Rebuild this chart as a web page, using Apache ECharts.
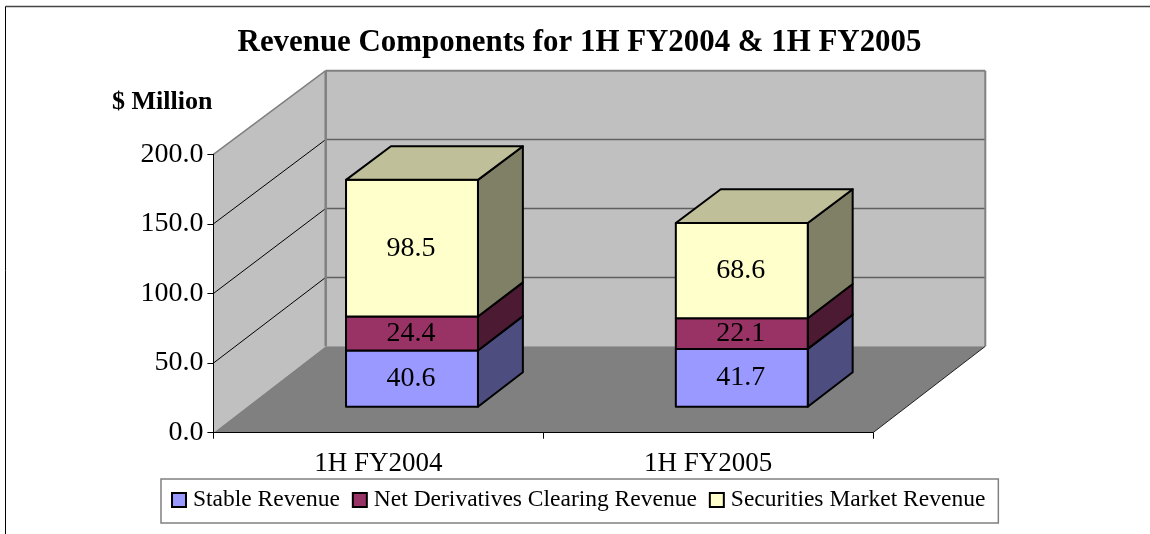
<!DOCTYPE html>
<html>
<head>
<meta charset="utf-8">
<title>Revenue Components</title>
<script src="https://cdn.jsdelivr.net/npm/echarts@6/dist/echarts.min.js"></script>
<style>
  html, body { margin: 0; padding: 0; background: #fff; }
  #chart { width: 1150px; height: 534px; }
</style>
</head>
<body>
<div id="chart"></div>
<script>
var categories = ['1H FY2004', '1H FY2005'];
var stableRevenue = [40.6, 41.7];
var derivativesRevenue = [24.4, 22.1];
var securitiesRevenue = [98.5, 68.6];
var wallTicks = [50, 100, 150];
var yMax = 200;

// fake 3D: how far the floor runs back, and where the bars sit on it
var DEPTH_X = 112.3;
var BAR_FRONT = 0.3;
var BAR_BACK = 0.7;
var BAR_WIDTH = 0.4;
var FONT = '"Liberation Serif", "Times New Roman", serif';

// value axis point pushed back by depth d (0 = front, 1 = back wall)
function project(api, catIndex, bandOffset, value, d) {
  var p = api.coord([catIndex, value]);
  var band = api.size([1, 0])[0];
  return [
    p[0] + bandOffset * band + d * DEPTH_X,
    p[1] + d * (-86.4 + value * 0.014)
  ];
}

function poly(points, fill) {
  return { type: 'polygon', shape: { points: points }, style: { fill: fill, stroke: null } };
}

function line(a, b, color, width) {
  return {
    type: 'line',
    shape: { x1: a[0], y1: a[1], x2: b[0], y2: b[1] },
    style: { stroke: color, lineWidth: width, fill: null }
  };
}

function renderWalls(params, api) {
  var last = categories.length - 1;
  var fl = project(api, 0, -0.5, 0, 0);
  var fr = project(api, last, 0.5, 0, 0);
  var bl = project(api, 0, -0.5, 0, 1);
  var br = project(api, last, 0.5, 0, 1);
  var tf = project(api, 0, -0.5, yMax, 0);
  var tl = project(api, 0, -0.5, yMax, 1);
  var tr = project(api, last, 0.5, yMax, 1);
  var children = [
    poly([fl, tf, tl, bl], '#C0C0C0'),
    poly([bl, tl, tr, br], '#C0C0C0'),
    poly([fl, bl, br, fr], '#808080')
  ];
  wallTicks.forEach(function (v) {
    var a = project(api, 0, -0.5, v, 0);
    var b = project(api, 0, -0.5, v, 1);
    var c = project(api, last, 0.5, v, 1);
    children.push(line(b, c, '#606060', 1.5));
    children.push(line(a, b, '#000', 1));
  });
  children.push(line(tf, tl, '#808080', 1.5));
  children.push(line(tl, tr, '#808080', 2));
  children.push(line(tr, br, '#808080', 2));
  children.push(line(bl, tl, '#808080', 2.5));
  children.push(line(fr, br, '#222', 1));
  return { type: 'group', children: children };
}

function makeRenderBar(front, side, top, isTop) {
  return function (params, api) {
    var cat = api.value(0);
    var base = api.value(1);
    var end = api.value(2);
    var h = BAR_WIDTH / 2;
    var a = project(api, cat, -h, base, BAR_FRONT);
    var b = project(api, cat, h, base, BAR_FRONT);
    var c = project(api, cat, h, end, BAR_FRONT);
    var d = project(api, cat, -h, end, BAR_FRONT);
    var e = project(api, cat, h, base, BAR_BACK);
    var f = project(api, cat, h, end, BAR_BACK);
    var g = project(api, cat, -h, end, BAR_BACK);
    var edge = { stroke: '#000', lineWidth: 2, lineJoin: 'round' };
    var children = [
      { type: 'polygon', shape: { points: [b, e, f, c] }, style: Object.assign({ fill: side }, edge) },
      { type: 'polygon', shape: { points: [a, b, c, d] }, style: Object.assign({ fill: front }, edge) }
    ];
    if (isTop) {
      children.push({ type: 'polygon', shape: { points: [d, c, f, g] }, style: Object.assign({ fill: top }, edge) });
    }
    children.push({
      type: 'text',
      z2: 10,
      style: {
        x: (a[0] + b[0]) / 2 - 1,
        y: (a[1] + d[1]) / 2,
        text: (end - base).toFixed(1),
        fill: '#000',
        align: 'center',
        verticalAlign: 'middle',
        font: '28px ' + FONT
      }
    });
    return { type: 'group', children: children };
  };
}

function stackData(values, below) {
  return values.map(function (v, i) {
    return [i, below[i], below[i] + v];
  });
}

var zeros = categories.map(function () { return 0; });
var stableData = stackData(stableRevenue, zeros);
var derivData = stackData(derivativesRevenue, stableData.map(function (d) { return d[2]; }));
var secData = stackData(securitiesRevenue, derivData.map(function (d) { return d[2]; }));

var myChart = echarts.init(document.getElementById('chart'));
var option = {
  animation: false,
  backgroundColor: '#fff',
  title: {
    text: 'Revenue Components for 1H FY2004 & 1H FY2005',
    left: 574.5,
    top: 23,
    textAlign: 'center',
    textStyle: { fontFamily: FONT, fontWeight: 'bold', fontSize: 30.9, color: '#000' }
  },
  legend: {
    left: 161,
    top: 479,
    padding: [9, 13, 11, 10],
    itemGap: 12,
    itemWidth: 14,
    itemHeight: 14,
    backgroundColor: '#fff',
    borderColor: '#808080',
    borderWidth: 1.5,
    borderRadius: 0,
    textStyle: { fontFamily: FONT, fontSize: 23.5, color: '#000', padding: [0, 0, 0, 2] },
    itemStyle: { borderColor: '#000', borderWidth: 2 },
    data: [
      { name: 'Stable Revenue', icon: 'rect', itemStyle: { color: '#9999FF' } },
      { name: 'Net Derivatives Clearing Revenue', icon: 'rect', itemStyle: { color: '#993366' } },
      { name: 'Securities Market Revenue', icon: 'rect', itemStyle: { color: '#FFFFCC' } }
    ]
  },
  grid: { left: 213.4, top: 154.3, width: 659.6, height: 278.4 },
  xAxis: {
    type: 'category',
    data: categories,
    z: 5,
    axisLine: { lineStyle: { color: '#000', width: 1 } },
    axisTick: { show: true, length: 6, lineStyle: { color: '#000' } },
    axisLabel: { color: '#000', fontFamily: FONT, fontSize: 27, margin: 18 }
  },
  yAxis: {
    type: 'value',
    min: 0,
    max: yMax,
    interval: 50,
    z: 5,
    name: '$ Million',
    nameLocation: 'end',
    nameGap: 52,
    nameTextStyle: {
      fontFamily: FONT, fontWeight: 'bold', fontSize: 26, color: '#000',
      align: 'right', verticalAlign: 'middle', padding: [0, 1, 0, 0]
    },
    axisLine: { show: true, lineStyle: { color: '#000', width: 1 } },
    axisTick: { show: true, length: 6, lineStyle: { color: '#000' } },
    splitLine: { show: false },
    axisLabel: {
      color: '#000', fontFamily: FONT, fontSize: 28, margin: 10,
      formatter: function (v) { return v.toFixed(1); }
    }
  },
  series: [
    {
      name: 'walls',
      type: 'custom',
      silent: true,
      clip: false,
      z: 1,
      renderItem: renderWalls,
      data: [[0, 0]]
    },
    {
      name: 'Stable Revenue',
      type: 'custom',
      clip: false,
      z: 2,
      renderItem: makeRenderBar('#9999FF', '#4D4D80', '#BFBF99', false),
      encode: { x: 0, y: [1, 2] },
      data: stableData
    },
    {
      name: 'Net Derivatives Clearing Revenue',
      type: 'custom',
      clip: false,
      z: 3,
      renderItem: makeRenderBar('#993366', '#4D1A33', '#BFBF99', false),
      encode: { x: 0, y: [1, 2] },
      data: derivData
    },
    {
      name: 'Securities Market Revenue',
      type: 'custom',
      clip: false,
      z: 4,
      renderItem: makeRenderBar('#FFFFCC', '#808066', '#BFBF99', true),
      encode: { x: 0, y: [1, 2] },
      data: secData
    }
  ],
  graphic: [
    { type: 'line', silent: true, shape: { x1: 5.5, y1: 6.5, x2: 1150, y2: 6.5 }, style: { stroke: '#444', lineWidth: 1.5 } },
    { type: 'line', silent: true, shape: { x1: 5.5, y1: 6.5, x2: 5.5, y2: 534 }, style: { stroke: '#000', lineWidth: 1 } }
  ]
};
myChart.setOption(option);
</script>
</body>
</html>
